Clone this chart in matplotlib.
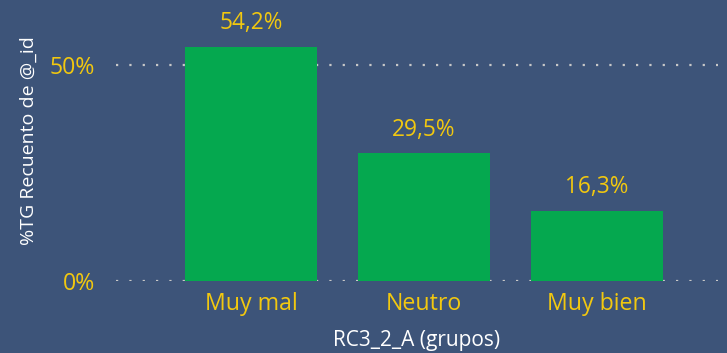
import matplotlib.pyplot as plt
from matplotlib.ticker import FuncFormatter

# Share of responses per group
grupos = ["Muy mal", "Neutro", "Muy bien"]
porcentajes = [54.2, 29.5, 16.3]
y_ticks = [0, 50]

bg = "#3d5479"
green = "#05a84f"
yellow = "#f2c80f"

plt.rcParams["font.family"] = ["Open Sans", "DejaVu Sans"]

fig = plt.figure(figsize=(7.27, 3.53), dpi=100, facecolor=bg)
ax = fig.add_axes([116 / 727, 72 / 353, 602 / 727, 281 / 353], facecolor=bg)

x = range(len(grupos))
bars = ax.bar(x, porcentajes, width=0.763, color=green, zorder=3)

for rect, val in zip(bars, porcentajes):
    ax.text(rect.get_x() + rect.get_width() / 2, val + 2.6,
            f"{val:.1f}%".replace(".", ","),
            ha="center", va="bottom", color=yellow, fontsize=16.3)

ax.set_xlim(-0.78, 2.70)
ax.set_ylim(0, 65)
ax.set_yticks(y_ticks)
ax.yaxis.set_major_formatter(FuncFormatter(lambda v, _: f"{v:.0f}%"))
ax.set_xticks(list(x))
ax.set_xticklabels(grupos)

ax.tick_params(axis="both", length=0, colors=yellow, labelsize=16.7)
ax.tick_params(axis="x", pad=8)
ax.tick_params(axis="y", pad=15)

ax.grid(axis="y", color="#c8c8c8", linestyle=(0, (1, 5)), linewidth=1.6, zorder=1)
for s in ax.spines.values():
    s.set_visible(False)

ax.set_xlabel("RC3_2_A (grupos)", color="white", fontsize=15, labelpad=10)
ax.set_ylabel("%TG Recuento de @_id", color="white", fontsize=14, labelpad=9)

fig.savefig("out.png", dpi=100, facecolor=bg)
